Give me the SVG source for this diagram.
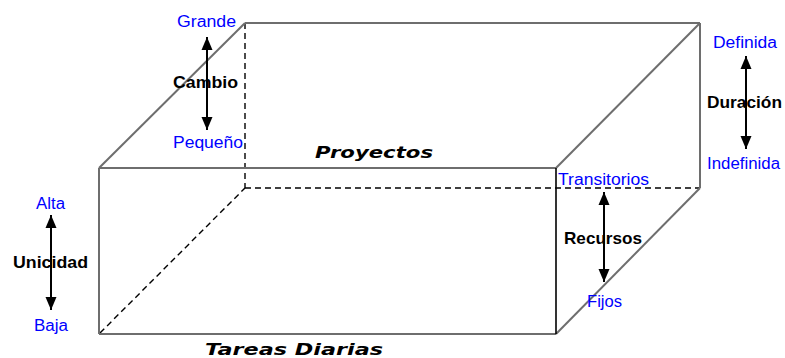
<svg xmlns="http://www.w3.org/2000/svg" width="785" height="358" viewBox="0 0 785 358">
<style>
.edge{stroke:#6e6e6e;stroke-width:2;fill:none}
.front{stroke:#000;stroke-width:1.6;fill:none}
.dash{stroke:#000;stroke-width:1.4;stroke-dasharray:6,4;fill:none}
.lbl{font-family:"Liberation Sans",Arial,sans-serif;font-size:16px;fill:#0000ff}
.dim{font-family:"Liberation Sans",Arial,sans-serif;font-size:17px;font-weight:bold;fill:#000}
.title{font-family:"DejaVu Sans","Liberation Sans",sans-serif;font-size:16px;font-weight:bold;font-style:italic;fill:#000}
.arr{stroke:#000;stroke-width:2;fill:none;marker-start:url(#head);marker-end:url(#head)}
</style>
<defs>
<marker id="head" markerUnits="userSpaceOnUse" markerWidth="14" markerHeight="14" viewBox="0 0 14 14" refX="13" refY="7" orient="auto-start-reverse">
<path d="M0,1.5 L13,7 L0,12.5 Z" fill="#000"/>
</marker>
</defs>
<rect width="785" height="358" fill="#fff"/>
<g id="box">
<line class="dash" x1="245" y1="23" x2="245" y2="188"/>
<line class="dash" x1="245" y1="188" x2="700" y2="188"/>
<line class="dash" x1="100" y1="333" x2="245" y2="188"/>
<line class="edge" x1="245" y1="23" x2="700" y2="23"/>
<line class="edge" x1="700" y1="23" x2="700" y2="188"/>
<line class="edge" x1="99" y1="168" x2="245" y2="23"/>
<line class="edge" x1="556" y1="168" x2="700" y2="23"/>
<line class="edge" x1="556" y1="334" x2="700" y2="188"/>
<line class="edge" x1="99" y1="168" x2="556" y2="168"/>
<line class="edge" x1="99" y1="334" x2="556" y2="334"/>
<line class="edge" x1="99" y1="168" x2="99" y2="334"/>
<line class="front" x1="556" y1="168" x2="556" y2="334"/>
</g>
<g id="connectors">
<line class="arr" x1="207" y1="37" x2="207" y2="130"/>
<line class="arr" x1="746" y1="56" x2="746" y2="149"/>
<line class="arr" x1="51" y1="215" x2="51" y2="310"/>
<line class="arr" x1="604" y1="192" x2="604" y2="282"/>
</g>
<g id="cambio">
<text class="lbl" x="177" y="27" textLength="59" lengthAdjust="spacingAndGlyphs">Grande</text>
<text class="dim" x="173" y="88" textLength="65" lengthAdjust="spacingAndGlyphs">Cambio</text>
<text class="lbl" x="173" y="148" textLength="70" lengthAdjust="spacingAndGlyphs">Pequeño</text>
</g>
<g id="duracion">
<text class="lbl" x="713" y="48" textLength="64" lengthAdjust="spacingAndGlyphs">Definida</text>
<text class="dim" x="707" y="108" textLength="75" lengthAdjust="spacingAndGlyphs">Duración</text>
<text class="lbl" x="707" y="169" textLength="73" lengthAdjust="spacingAndGlyphs">Indefinida</text>
</g>
<g id="unicidad">
<text class="lbl" x="36" y="209" textLength="29" lengthAdjust="spacingAndGlyphs">Alta</text>
<text class="dim" x="13" y="268" textLength="75" lengthAdjust="spacingAndGlyphs">Unicidad</text>
<text class="lbl" x="34" y="331" textLength="34" lengthAdjust="spacingAndGlyphs">Baja</text>
</g>
<g id="recursos">
<text class="lbl" x="558" y="185" textLength="91" lengthAdjust="spacingAndGlyphs">Transitorios</text>
<text class="dim" x="564" y="244" textLength="78" lengthAdjust="spacingAndGlyphs">Recursos</text>
<text class="lbl" x="587" y="307" textLength="35" lengthAdjust="spacingAndGlyphs">Fijos</text>
</g>
<g id="proyectos">
<text class="title" x="315" y="158" textLength="118" lengthAdjust="spacingAndGlyphs">Proyectos</text>
</g>
<g id="tareas">
<text class="title" x="205" y="355" textLength="178" lengthAdjust="spacingAndGlyphs">Tareas Diarias</text>
</g>
</svg>
